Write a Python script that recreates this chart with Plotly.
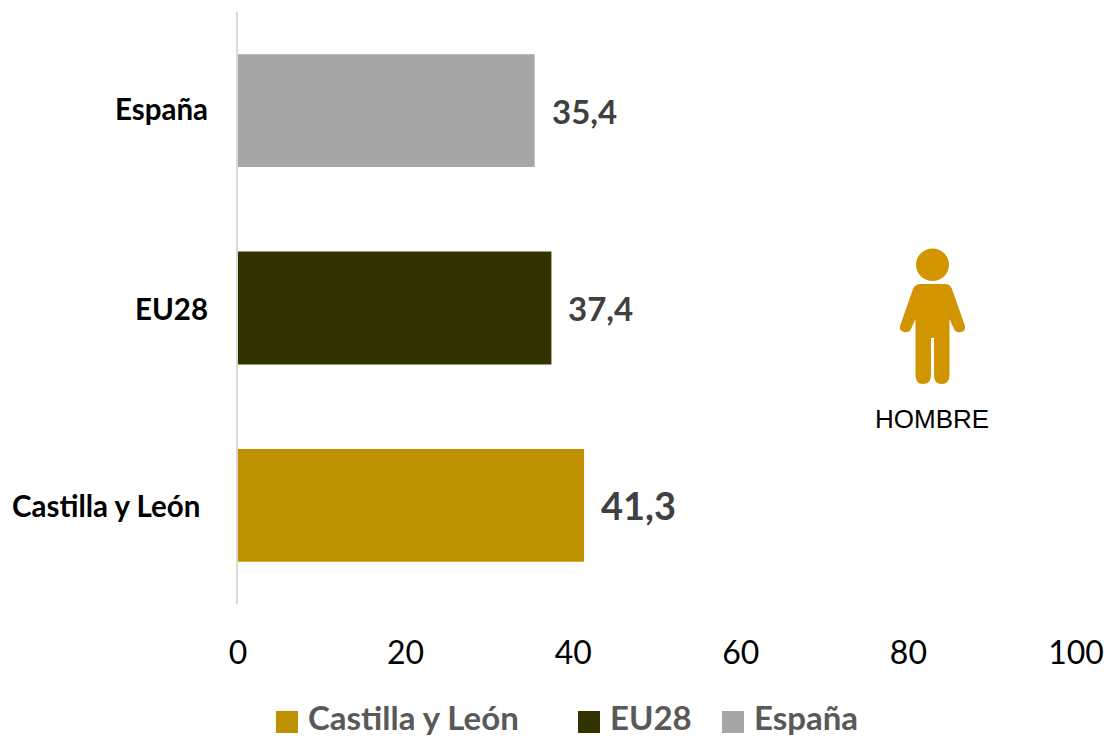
import plotly.graph_objects as go

categories = ["Castilla y León", "EU28", "España"]
values = [41.3, 37.4, 35.4]
labels = ["41,3", "37,4", "35,4"]
colors = ["#BF9000", "#333300", "#A6A6A6"]
label_sizes = [38, 33, 33]
ticks = [0, 20, 40, 60, 80, 100]
FONT = "Lato, Open Sans, sans-serif"
ICON = "#D09500"

fig = go.Figure()
for c, v, col in zip(categories, values, colors):
    fig.add_trace(go.Bar(
        y=[c], x=[v], name=c, orientation="h", width=0.572,
        marker=dict(color=col, line=dict(width=0)), hoverinfo="skip", showlegend=False,
    ))

W, H = 1109, 738
L, R, T, B = 238, 1076, 12, 604
fig.update_layout(
    width=W, height=H, autosize=False,
    margin=dict(l=L, r=W - R, t=T, b=H - B, autoexpand=False),
    paper_bgcolor="white", plot_bgcolor="white",
    barmode="overlay", showlegend=False,
    xaxis=dict(range=[0, 100], tickvals=ticks, showgrid=False, zeroline=False,
               showline=False, ticks="", ticklabelstandoff=27,
               tickfont=dict(family=FONT, size=32, color="#000000")),
    yaxis=dict(categoryorder="array", categoryarray=categories, showgrid=False,
               showline=True, linecolor="#D9D9D9", linewidth=2, ticks="",
               showticklabels=False, zeroline=False),
)

def px(x): return (x - L) / (R - L)
def py(y): return (B - y) / (B - T)

# Value labels
for c, v, t, s in zip(categories, values, labels, label_sizes):
    fig.add_annotation(xref="x", yref="y", x=v, y=c, text=f"<b>{t}</b>", showarrow=False,
                       xanchor="left", xshift=15,
                       font=dict(family=FONT, size=s, color="#404040"))

# Category labels
for c, xshift, yshift in zip(categories, [-36, -28, -28], [0, 0, 2]):
    fig.add_annotation(xref="x", yref="y", x=0, y=c, text=f"<b>{c}</b>", showarrow=False,
                       xanchor="right", xshift=xshift, yshift=yshift,
                       font=dict(family=FONT, size=29.5, color="#000000"))

# Legend, laid out to the reference's positions
legend_x = [276, 578, 722]
for c, col, x in zip(categories, colors, legend_x):
    fig.add_shape(type="rect", xref="paper", yref="paper", x0=px(x), x1=px(x + 22),
                  y0=py(733), y1=py(711), fillcolor=col, line_width=0)
    fig.add_annotation(xref="paper", yref="paper", x=px(x + 30), y=py(717), text=f"<b>{c}</b>",
                       showarrow=False, xanchor="left", yanchor="middle",
                       font=dict(family=FONT, size=33, color="#595959"))

# Person icon
fig.add_shape(type="circle", xref="paper", yref="paper", x0=px(916), x1=px(949), y0=py(281), y1=py(248.5),
              fillcolor=ICON, line_width=0)
def P(x, y): return f"{px(x):.5f} {py(y):.5f}"
d = (f"M{P(921, 284)} L{P(945, 284)} Q{P(950, 284)} {P(952, 289)} L{P(965, 326)} Q{P(966, 331)} {P(961, 332)} "
     f"Q{P(956, 333)} {P(954, 329)} L{P(949.5, 319)} L{P(949.5, 375)} Q{P(949.5, 384)} {P(941.5, 384)} "
     f"Q{P(934, 384)} {P(934, 375)} L{P(934, 338)} L{P(931, 338)} L{P(931, 375)} Q{P(931, 384)} {P(923, 384)} "
     f"Q{P(915.5, 384)} {P(915.5, 375)} L{P(915.5, 319)} L{P(911, 329)} Q{P(909, 333)} {P(904, 332)} "
     f"Q{P(899, 331)} {P(900, 326)} L{P(913, 289)} Q{P(915, 284)} {P(921, 284)} Z")
fig.add_shape(type="path", xref="paper", yref="paper", path=d, fillcolor=ICON, line_width=0)
fig.add_annotation(xref="paper", yref="paper", x=px(931.5), y=py(419), text="HOMBRE", showarrow=False,
                   xanchor="center", yanchor="middle",
                   font=dict(family="Liberation Sans, Arial, sans-serif", size=26, color="#000000"))

fig.write_html("out.html", config={"displayModeBar": False},
               post_script="document.body.style.margin='0';document.body.style.overflow='hidden';")
